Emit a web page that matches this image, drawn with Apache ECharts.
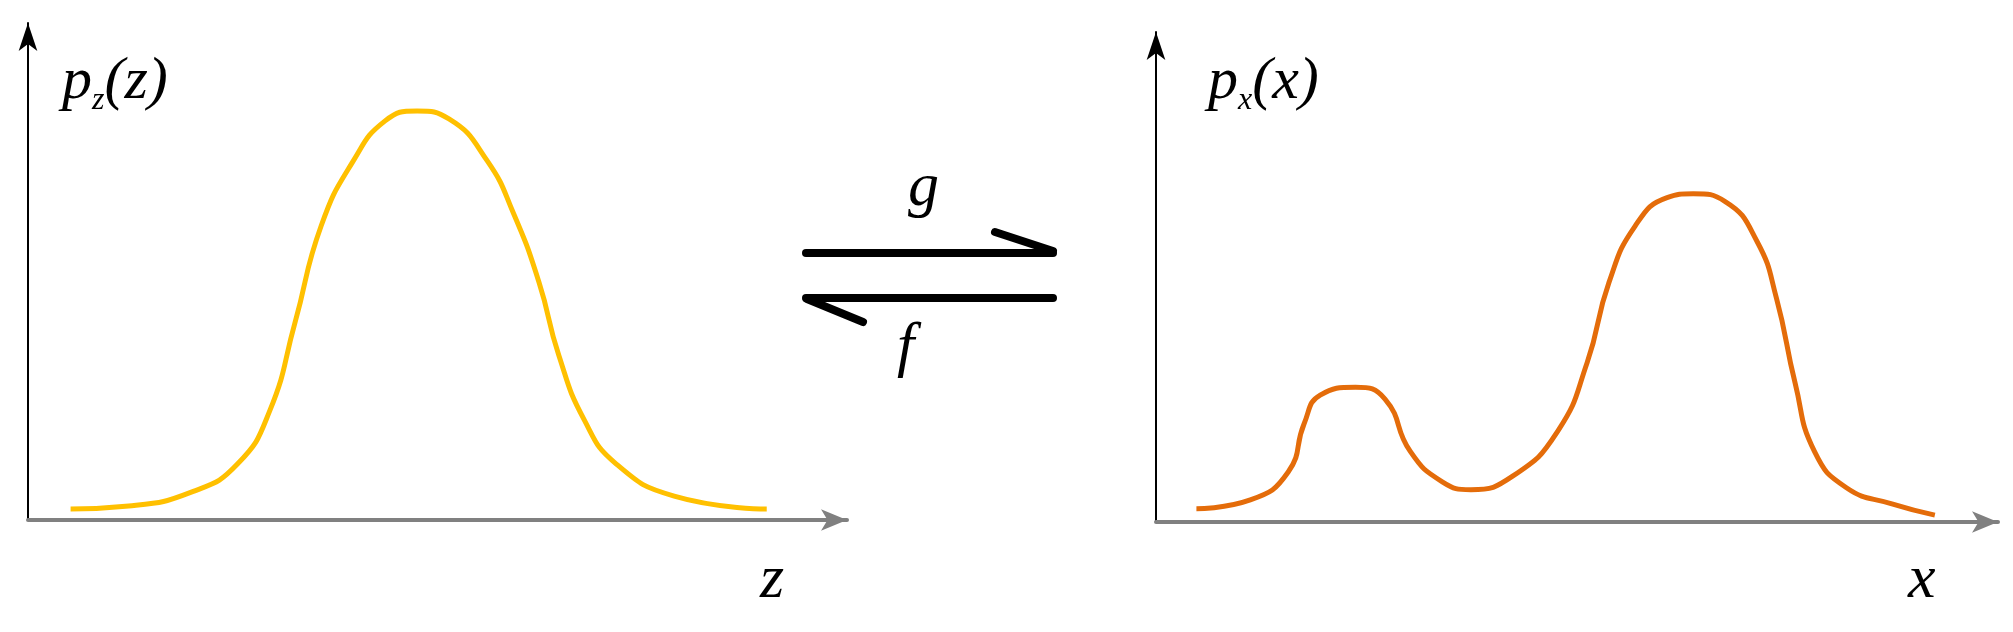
<!DOCTYPE html>
<html><head><meta charset="utf-8">
<script src="https://cdn.jsdelivr.net/npm/echarts@6/dist/echarts.min.js"></script>
<style>html,body{margin:0;padding:0;background:#fff}#c{width:2013px;height:632px}</style>
</head><body><div id="c"></div>
<script>
// left density p_z(z): [x, y]
const pzData = [[5.2,2.2],[12.3,2.8],[20.1,5.7],[25.6,11.3],[29.5,21.9],[32.6,39.7],[35.8,59.2],[39.7,72.2],[43.6,80.3],[47.5,82.3],[51.4,80.7],[56.1,72.2],[59.3,61.6],[62.4,47.8],[64.8,33.2],[67.9,20.2],[71.8,11.3],[78.9,4.8],[90.2,2.2]];
// right density p_x(x): [x, y]
const pxData = [[4.8,2.7],[11.2,4.5],[15.7,10.2],[17.6,20.1],[19.5,25.9],[23.7,27.5],[27.2,25.1],[30.2,14.4],[34.0,8.2],[37.4,6.6],[42.4,9.4],[47.7,18.5],[51.2,32.5],[53.8,48.9],[56.9,60.4],[60.7,66.2],[63.8,67.0],[67.6,65.4],[71.4,57.2],[73.7,45.6],[75.9,28.4],[78.2,14.4],[82.0,7.0],[87.4,3.7],[92.5,1.4]];

const chart = echarts.init(document.getElementById('c'));
const serif = '"Liberation Serif","DejaVu Serif",serif';
function xAx(i){return {gridIndex:i,type:'value',min:0,max:100,axisLine:{lineStyle:{color:'#808080',width:4},symbol:['none','arrow'],symbolSize:[16,26]},axisTick:{show:false},axisLabel:{show:false},splitLine:{show:false}};}
function yAx(i){return {gridIndex:i,type:'value',min:0,max:100,axisLine:{show:true,lineStyle:{color:'#000',width:2},symbol:['none','arrow'],symbolSize:[14,28]},axisTick:{show:false},axisLabel:{show:false},splitLine:{show:false}};}
function lbl(x,y,main,sub,arg){
  return {type:'text',left:x,top:y,style:{text:'{p|'+main+'}{s|'+sub+'}{p|('+arg+')}',rich:{p:{fontFamily:serif,fontStyle:'italic',fontSize:60,fill:'#000'},s:{fontFamily:serif,fontStyle:'italic',fontSize:32,fill:'#000',padding:[38,0,0,0]}}}};
}
function txt(x,y,t){return {type:'text',left:x,top:y,style:{text:t,fontFamily:serif,fontStyle:'italic',fontSize:62,fill:'#000'}};}
function ln(x1,y1,x2,y2){return {type:'line',shape:{x1:x1,y1:y1,x2:x2,y2:y2},style:{stroke:'#000',lineWidth:8,lineCap:'round'}};}
chart.setOption({
  animation:false,
  grid:[{left:28,top:23,width:819,height:497},{left:1156,top:32,width:842,height:490}],
  xAxis:[xAx(0),xAx(1)],
  yAxis:[yAx(0),yAx(1)],
  series:[
    {type:'line',xAxisIndex:0,yAxisIndex:0,data:pzData,smooth:0.5,showSymbol:false,lineStyle:{color:'#FFC000',width:5}},
    {type:'line',xAxisIndex:1,yAxisIndex:1,data:pxData,smooth:0.5,showSymbol:false,lineStyle:{color:'#E46C0A',width:5}}
  ],
  graphic:[
    lbl(62,52,'p','z','z'),
    lbl(1208,52,'p','x','x'),
    txt(760,550,'z'),
    txt(1908,550,'x'),
    txt(908,158,'g'),
    txt(897,318,'f'),
    ln(806,253,1053,253),
    ln(995,232,1053,251),
    ln(806,298,1053,298),
    ln(807,299,863,322)
  ]
});
</script></body></html>
